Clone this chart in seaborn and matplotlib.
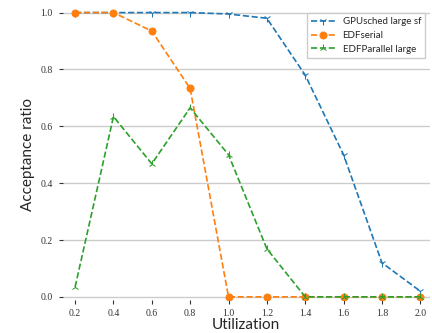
import pandas as pd
import matplotlib.pyplot as plt
import seaborn as sns

utilization = [0.2, 0.4, 0.6, 0.8, 1.0, 1.2, 1.4, 1.6, 1.8, 2.0]
gpusched = [1.0, 1.0, 1.0, 1.0, 0.995, 0.98, 0.78, 0.50, 0.12, 0.02]
edfSerial = [1.0, 1.0, 0.935, 0.733, 0.0, 0.0, 0.0, 0.0, 0.0, 0.0]
edfParallel = [0.035, 0.634, 0.468, 0.665, 0.50, 0.169, 0.0, 0.0, 0.0, 0.0]

names = ["GPUsched large sf", "EDFserial", "EDFParallel large"]
series = [gpusched, edfSerial, edfParallel]
markers = ["1", "o", "2"]
sizes = [5.5, 5, 5.5]

rows = []
for name, vals in zip(names, series):
  for u, v in zip(utilization, vals):
    rows.append({"Utilization": u, "ratio": v, "algo": name})
data = pd.DataFrame(rows)

sns.set_style("whitegrid")
plt.rcParams['font.family'] = ['Lato', 'DejaVu Sans']

fig, ax = plt.subplots(figsize=(4.32, 3.33), dpi=100)
palette = sns.color_palette("tab10")
for i, name in enumerate(names):
  sns.lineplot(data=data[data["algo"] == name], x="Utilization", y="ratio",
               ax=ax, color=palette[i], linestyle="--", marker=markers[i],
               markersize=sizes[i], markeredgecolor=palette[i], label=name,
               linewidth=1.2)

ax.set_xticks(utilization)
ax.set_yticks([0.0, 0.2, 0.4, 0.6, 0.8, 1.0])
ax.set_xlim(0.135, 2.05)
ax.set_ylim(-0.01, 1.015)
ax.grid(axis="x", visible=False)
ax.grid(axis="y", color="#cccccc", linewidth=1)
for s in ax.spines.values():
  s.set_visible(False)
ax.tick_params(axis="both", length=3, width=0.8, color="#333333", left=True, bottom=True, pad=4)
for lab in ax.get_xticklabels() + ax.get_yticklabels():
  lab.set_fontfamily("Liberation Serif")
  lab.set_fontsize(7)
  lab.set_color("#333333")
ax.set_xlabel("Utilization", fontsize=11, labelpad=0)
ax.set_ylabel("Acceptance ratio", fontsize=11)
ax.legend(loc="upper right", fontsize=7, frameon=True, edgecolor="#cccccc",
          framealpha=1, fancybox=False, handlelength=2.5)

fig.subplots_adjust(left=0.145, right=0.995, top=0.975, bottom=0.1)
fig.savefig("out.png", dpi=100)
